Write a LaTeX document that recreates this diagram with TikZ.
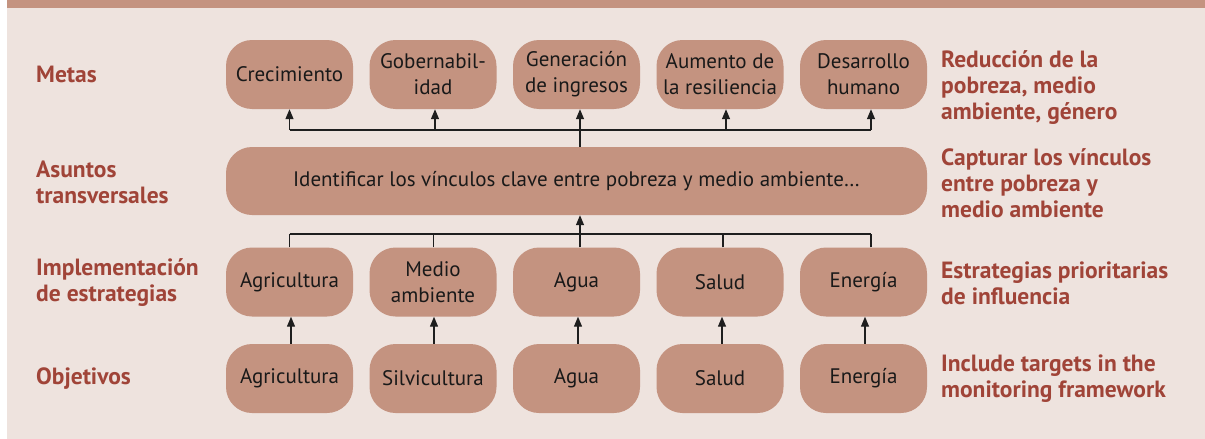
\documentclass[tikz,border=0pt]{standalone}
\usepackage{fontspec}
\setmainfont{PT Sans}
\usetikzlibrary{arrows.meta,calc}
\definecolor{boxc}{RGB}{196,147,128}
\definecolor{bgc}{RGB}{238,227,222}
\definecolor{labc}{RGB}{160,68,56}
\definecolor{linec}{RGB}{30,30,30}
\begin{document}
\begin{tikzpicture}[x=1pt,y=-1pt,
  box/.style={fill=boxc, rounded corners=26pt, minimum width=127pt, minimum height=69pt,
    align=center, font=\fontsize{21}{26}\selectfont, text=black!90, inner sep=0pt},
  lab/.style={anchor=west, align=left, text=labc, inner sep=0pt,
    font=\bfseries\fontsize{23.5}{26}\selectfont},
  conn/.style={draw=linec, line width=1.3pt},
  arr/.style={conn, -{Triangle[length=10pt,width=8pt]}}]
\useasboundingbox (0,0) rectangle (1205,439);
\fill[white] (0,0) rectangle (1205,439);
\fill[bgc] (7,0) rectangle (1205,439);
\fill[boxc] (7,0) rectangle (1205,8);
% Metas row
\node[box] (m1) at (289.5,74.5) {Crecimiento};
\node[box] (m2) at (433,74.5) {Gobernabil-\\idad};
\node[box] (m3) at (576.5,74.5) {Generación\\de ingresos};
\node[box] (m4) at (720,74.5) {Aumento de\\la resiliencia};
\node[box] (m5) at (863.5,74.5) {Desarrollo\\humano};
% big box
\node[box, minimum width=701pt, minimum height=68pt] (big) at (576.5,181)
  {Identificar los vínculos clave entre pobreza y medio ambiente…};
% implementation row
\node[box] (i1) at (289.5,282) {Agricultura};
\node[box] (i2) at (433,282) {Medio\\ambiente};
\node[box] (i3) at (576.5,282) {Agua};
\node[box] (i4) at (720,282) {Salud};
\node[box] (i5) at (863.5,282) {Energía};
% objectives row
\node[box] (o1) at (289.5,378.5) {Agricultura};
\node[box] (o2) at (433,378.5) {Silvicultura};
\node[box] (o3) at (576.5,378.5) {Agua};
\node[box] (o4) at (720,378.5) {Salud};
\node[box] (o5) at (863.5,378.5) {Energía};
% left labels
\node[lab] (l1) at (36,74) {Metas};
\node[lab] (l2) at (36,182) {Asuntos\\transversales};
\node[lab] (l3) at (36,283) {Implementación\\de estrategias};
\node[lab] (l4) at (36,379) {Objetivos};
% right labels
\node[lab] (r1) at (941,88) {Reducción de la\\pobreza, medio\\ambiente, género};
\node[lab] (r2) at (941,183) {Capturar los vínculos\\entre pobreza y\\medio ambiente};
\node[lab] (r3) at (941,283) {Estrategias prioritarias\\de influencia};
\node[lab] (r4) at (941,379) {Include targets in the\\monitoring framework};
% connector levels
\coordinate (ytop) at (0,130);
\coordinate (ybot) at (0,234);
% top connectors
\draw[conn] ($(m1.south |- ytop)$) -- ($(m5.south |- ytop)+(7.5,0)$);
\draw[arr] ($(big.north)+(3.5,0)$) -- ($(m3.south)+(3.5,0)$);
\foreach \n/\d in {1/0,2/2,4/6,5/7.5}
  \draw[arr] ($(m\n.south |- ytop)+(\d,0)$) -- ($(m\n.south)+(\d,0)$);
% bottom connectors
\draw[conn] ($(i1.north |- ybot)$) -- ($(i5.north |- ybot)+(7.5,0)$);
\draw[arr] ($(i3.north)+(3.5,0)$) -- ($(big.south)+(3.5,0)$);
\foreach \n/\d in {1/0,2/0.5,4/3,5/7.5}
  \draw[conn] ($(i\n.north)+(\d,0)$) -- ($(i\n.north |- ybot)+(\d,0)$);
% objectives to implementation
\foreach \n/\d in {1/1.5,2/1,3/1.5,4/2,5/1.5}
  \draw[arr] ($(o\n.north)+(\d,0)$) -- ($(i\n.south)+(\d,0)$);
\end{tikzpicture}
\end{document}
